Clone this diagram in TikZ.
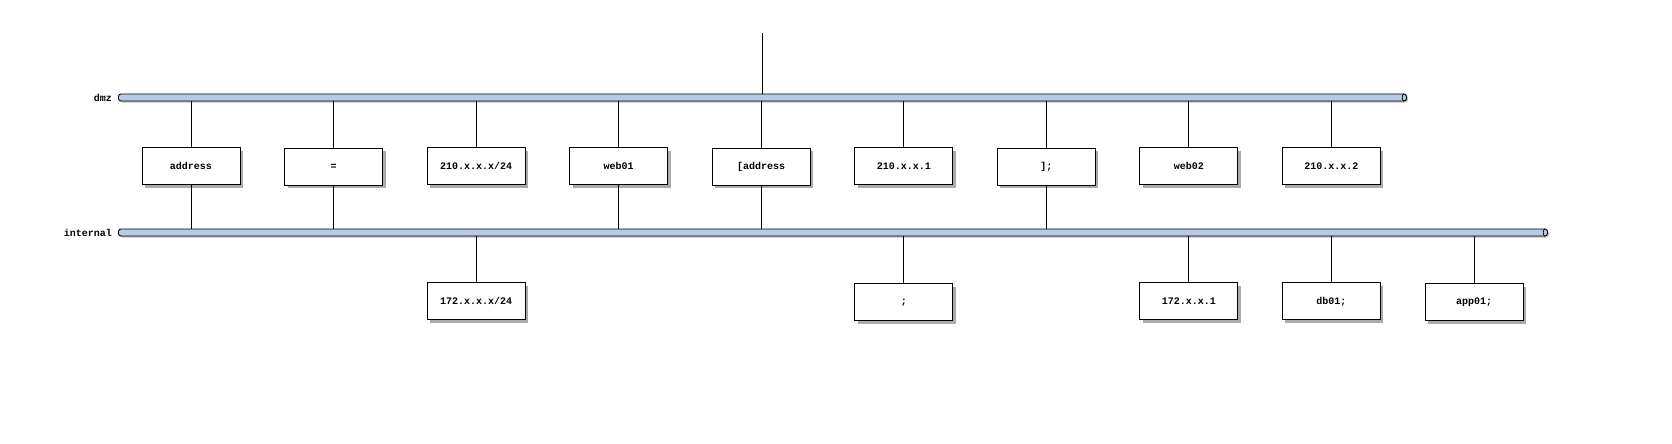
\documentclass[tikz,border=0pt]{standalone}
\usepackage{fontspec}
\setmonofont{Liberation Mono}
\usepackage{tikz}
\usetikzlibrary{matrix, positioning, shadows}
\definecolor{netblue}{RGB}{185,203,228}
\tikzset{
  hostbox/.style={draw, fill=white, line width=0.9pt, minimum width=98pt,
    minimum height=37pt, inner sep=0pt,
    font=\fontsize{10}{12}\selectfont\ttfamily\bfseries,
    drop shadow={shadow xshift=3pt, shadow yshift=-3.5pt, fill=black!60, opacity=0.55}},
  netbar/.style={draw, fill=netblue, line width=0.9pt, rounded corners=2.5pt,
    minimum height=7pt, inner sep=0pt, anchor=west,
    drop shadow={shadow xshift=1.5pt, shadow yshift=-1.5pt, fill=black!50, opacity=0.5}},
  netname/.style={anchor=east, inner sep=0pt, font=\fontsize{10}{12}\selectfont\ttfamily\bfseries},
  link/.style={line width=0.9pt}
}
\begin{document}
\begin{tikzpicture}[x=1pt, y=-1pt]
\useasboundingbox (0,0) rectangle (1672,444);
% networks
\node [netbar, minimum width=1288pt] (dmz) at (118,97.5) {};
\node [netbar, minimum width=1429pt] (int) at (118,232.5) {};
\node [netname] at (112,97.5) {dmz};
\node [netname] at (112,232.5) {internal};
\foreach \b in {dmz,int}
  \draw [line width=0.7pt] ([xshift=-3pt]\b.north east) to[bend right=50] ([xshift=-3pt]\b.south east);
%
\matrix [matrix of nodes, nodes={hostbox},
         column sep={142.56pt,between origins},
         row sep={135pt,between origins},
         matrix anchor=address.center] at (191,165.5)
{
|(address)| address & |(eq)| = & |(dmznet)| 210.x.x.x/24 & |(web1)| web01 & |(addrb)| [address & |(gw)| 210.x.x.1 & |(close)| ]; & |(web2)| web02 & |(ip2)| 210.x.x.2 & \\
 & & |(intnet)| 172.x.x.x/24 & & & |(semi)| ; & & |(gwint)| 172.x.x.1 & |(db1)| db01; & |(app1)| app01; \\
};
%
\coordinate (top) at (762,33);
\draw [link] (top) -- (top |- dmz.north);
\foreach \n in {address,eq,dmznet,web1,addrb,gw,close,web2,ip2}
  \draw [link] (\n.north) -- (\n.north |- dmz.south);
\foreach \n in {address,eq,web1,addrb,close}
  \draw [link] (\n.south) -- (\n.south |- int.north);
\foreach \n in {intnet,semi,gwint,db1,app1}
  \draw [link] (\n.north) -- (\n.north |- int.south);
\end{tikzpicture}
\end{document}
